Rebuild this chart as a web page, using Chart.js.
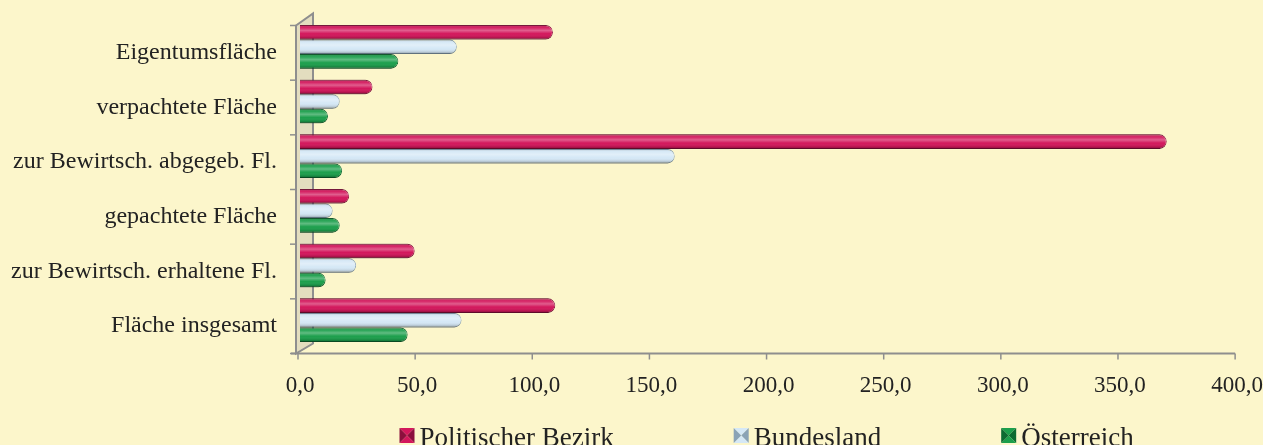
<!DOCTYPE html>
<html lang="de">
<head>
<meta charset="utf-8">
<title>Flächenvergleich</title>
<script src="https://cdn.jsdelivr.net/npm/chart.js@4.4.1/dist/chart.umd.min.js"></script>
<style>
  html, body { margin: 0; padding: 0; background: #FCF6CB; }
  #wrap { position: relative; width: 1263px; height: 445px; }
</style>
</head>
<body>
<div id="wrap"><canvas id="flaecheChart"></canvas></div>
<script>
// ==================== DATA ====================
const categories = [
  'Eigentumsfläche',
  'verpachtete Fläche',
  'zur Bewirtsch. abgegeb. Fl.',
  'gepachtete Fläche',
  'zur Bewirtsch. erhaltene Fl.',
  'Fläche insgesamt'
];
const bezirk = [108, 31, 370, 21, 49, 109];
const bundesland = [67, 17, 160, 14, 24, 69];
const oesterreich = [42, 12, 18, 17, 11, 46];
const seriesNames = ['Politischer Bezirk', 'Bundesland', 'Österreich'];
const xMin = 0, xMax = 400, xStep = 50;

const fillColors = ['#D3175C', '#D5E8F6', '#1C9F4C'];
const edgeColors = ['#8C0F3D', '#8AA3B6', '#0D6B31'];
const SERIF = '"Liberation Serif", "Times New Roman", serif';
const TEXT = '#222222';

function formatTick(v) {
  return v.toFixed(1).replace('.', ',');
}

// wall, floor line, tick marks and bar shading for the 3d look
const depthPlugin = {
  id: 'depth3d',
  beforeDatasetsDraw(chart) {
    const { ctx, chartArea } = chart;
    const { left, top, bottom } = chartArea;
    const fx = left - 4, fTop = top + 6, fBot = bottom + 6;
    const bx = left + 13, bTop = top - 6, bBot = bottom - 4;
    ctx.save();
    ctx.beginPath();
    ctx.moveTo(fx, fTop);
    ctx.lineTo(bx, bTop);
    ctx.lineTo(bx, bBot);
    ctx.lineTo(fx, fBot);
    ctx.closePath();
    ctx.fillStyle = '#E3DDBF';
    ctx.fill();
    ctx.strokeStyle = '#8E8E8E';
    ctx.lineWidth = 2;
    ctx.stroke();

    // category band ticks on the wall front edge
    const band = (bottom - top) / categories.length;
    ctx.lineWidth = 1.5;
    for (let i = 0; i <= categories.length; i++) {
      const yy = top + i * band + 6;
      ctx.beginPath();
      ctx.moveTo(fx - 6, yy);
      ctx.lineTo(fx, yy);
      ctx.stroke();
    }

    // floor axis with value ticks
    const xs = chart.scales.x;
    const xEnd = xs.getPixelForValue(xMax) - 2;
    ctx.lineWidth = 2;
    ctx.beginPath();
    ctx.moveTo(fx - 5, fBot);
    ctx.lineTo(xEnd, fBot);
    ctx.stroke();
    ctx.lineWidth = 1.5;
    xs.ticks.forEach(t => {
      const px = xs.getPixelForValue(t.value) - 2;
      ctx.beginPath();
      ctx.moveTo(px, fBot);
      ctx.lineTo(px, fBot + 6);
      ctx.stroke();
    });
    ctx.restore();
  },
  afterDatasetsDraw(chart) {
    const ctx = chart.ctx;
    chart.data.datasets.forEach((ds, di) => {
      const meta = chart.getDatasetMeta(di);
      meta.data.forEach(bar => {
        const { x, y, base, height } = bar.getProps(['x', 'y', 'base', 'height'], true);
        const t = y - height / 2, b = y + height / 2, r = height / 2;
        ctx.save();
        ctx.beginPath();
        ctx.moveTo(base, t);
        ctx.lineTo(x - r, t);
        ctx.arc(x - r, y, r, -Math.PI / 2, Math.PI / 2);
        ctx.lineTo(base, b);
        ctx.closePath();
        const g = ctx.createLinearGradient(0, t, 0, b);
        g.addColorStop(0, 'rgba(0,0,0,0.30)');
        g.addColorStop(0.18, 'rgba(255,255,255,0.05)');
        g.addColorStop(0.38, 'rgba(255,255,255,0.30)');
        g.addColorStop(0.6, 'rgba(255,255,255,0)');
        g.addColorStop(0.85, 'rgba(0,0,0,0.12)');
        g.addColorStop(1, 'rgba(0,0,0,0.38)');
        ctx.fillStyle = g;
        ctx.fill();
        ctx.restore();
      });
    });
  },
  afterDraw(chart) {
    // legend row below the axis, centred on the plot area
    const { ctx, chartArea } = chart;
    ctx.save();
    ctx.font = '27px ' + SERIF;
    ctx.textBaseline = 'alphabetic';
    const box = 15, gapText = 5, gapItem = 120;
    const widths = chart.data.datasets.map(d => ctx.measureText(d.label).width);
    const total = widths.reduce((a, w) => a + w + box + gapText, 0) + gapItem * (widths.length - 1);
    let x = (chartArea.left + chartArea.right) / 2 - total / 2 - 2;
    const boxTop = 428, baseLine = 446;
    chart.data.datasets.forEach((d, i) => {
      const cx = x + box / 2, cy = boxTop + box / 2;
      const shades = [fillColors[i], edgeColors[i], fillColors[i], edgeColors[i]];
      const corners = [[x, boxTop], [x + box, boxTop], [x + box, boxTop + box], [x, boxTop + box]];
      for (let k = 0; k < 4; k++) {
        const a = corners[k], bb = corners[(k + 1) % 4];
        ctx.beginPath();
        ctx.moveTo(cx, cy);
        ctx.lineTo(a[0], a[1]);
        ctx.lineTo(bb[0], bb[1]);
        ctx.closePath();
        ctx.fillStyle = shades[k];
        ctx.fill();
      }
      ctx.fillStyle = TEXT;
      ctx.fillText(d.label, x + box + gapText, baseLine);
      x += box + gapText + widths[i] + gapItem;
    });
    ctx.restore();
  }
};

const ctx = document.getElementById('flaecheChart');
new Chart(ctx, {
  type: 'bar',
  data: {
    labels: categories,
    datasets: [bezirk, bundesland, oesterreich].map((vals, i) => ({
      label: seriesNames[i],
      data: vals,
      backgroundColor: fillColors[i],
      borderColor: edgeColors[i],
      borderWidth: 1,
      borderSkipped: 'start',
      borderRadius: 8,
      barPercentage: 1.0,
      categoryPercentage: 0.8
    }))
  },
  options: {
    indexAxis: 'y',
    responsive: true,
    maintainAspectRatio: false,
    animation: false,
    layout: { padding: { top: 19.5, right: 0, left: 0, bottom: 0 } },
    plugins: {
      legend: { display: false },
      tooltip: { enabled: false }
    },
    scales: {
      x: {
        min: xMin,
        max: xMax,
        grid: { display: false, tickLength: 25 },
        border: { display: false },
        ticks: {
          stepSize: xStep,
          padding: 0,
          color: TEXT,
          font: { family: SERIF, size: 23 },
          callback: v => formatTick(v)
        },
        afterFit: s => { s.height = 97.5; }
      },
      y: {
        grid: { display: false, tickLength: 23 },
        border: { display: false },
        ticks: {
          padding: 0,
          labelOffset: 6,
          color: TEXT,
          font: { family: SERIF, size: 24 }
        },
        afterFit: s => { s.width = 300; }
      }
    }
  },
  plugins: [depthPlugin]
});
</script>
</body>
</html>
